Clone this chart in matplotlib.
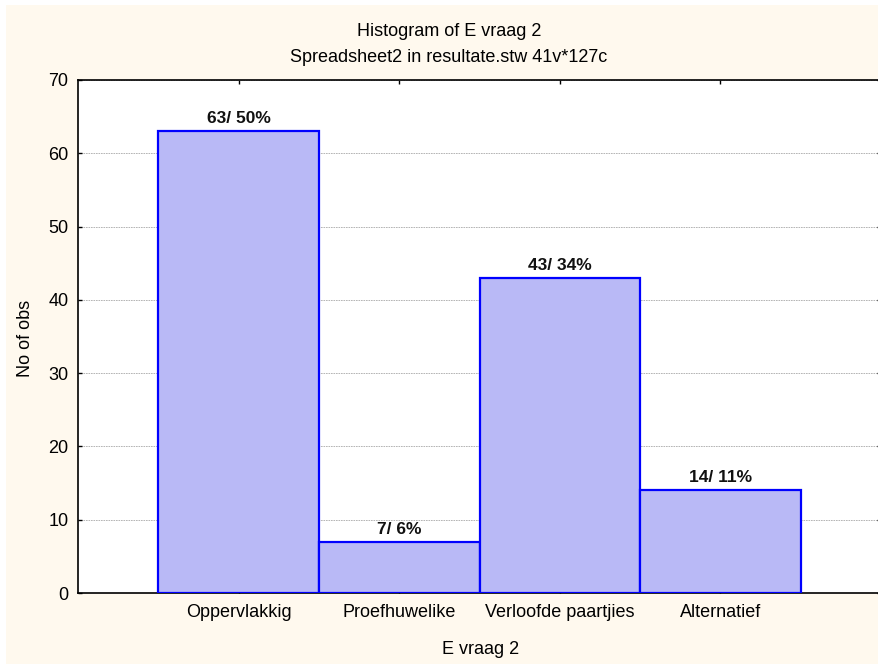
import matplotlib
matplotlib.use('Agg')
import matplotlib.pyplot as plt
from matplotlib.patches import Rectangle

categories = ['Oppervlakkig', 'Proefhuwelike', 'Verloofde paartjies', 'Alternatief']
counts = [63, 7, 43, 14]
percents = [50, 6, 34, 11]
yticks = [0, 10, 20, 30, 40, 50, 60, 70]

plt.rcParams['font.family'] = ['Liberation Sans', 'DejaVu Sans']

W, H = 879, 664
fig = plt.figure(figsize=(W / 100, H / 100), dpi=100, facecolor='white')

# cream background panel (behind the axes)
bg = Rectangle((6 / W, 0), 1, 1 - 5 / H, transform=fig.transFigure,
               facecolor='#FFF9EE', edgecolor='none', zorder=-10)
fig.add_artist(bg)

ax = fig.add_axes([78 / W, (H - 593) / H, (881 - 78) / W, (593 - 80) / H])
ax.set_facecolor('white')

pos = [1, 2, 3, 4]
ax.bar(pos, counts, width=1.0, color='#B9B9F6', edgecolor='#0000FF', linewidth=1.6, zorder=3)
for x, c, p in zip(pos, counts, percents):
    ax.text(x, c + 0.7, f'{c}/ {p}%', ha='center', va='bottom', fontsize=12.5,
            fontweight='bold', color='#111111', zorder=4)

ax.set_xlim(0, 5)
ax.set_ylim(0, 70)
ax.set_yticks(yticks)
ax.set_xticks(pos)
ax.set_xticklabels(categories)
ax.yaxis.grid(True, linestyle=(0, (2, 1)), color='#AAAAAA', linewidth=0.6, zorder=1)
ax.tick_params(direction='in', length=3, width=1, labelsize=13, top=True, right=True, pad=7)
ax.tick_params(axis='x', pad=8)
for s in ax.spines.values():
    s.set_linewidth(1.2)

fig.text(449 / W, 1 - 31 / H, 'Histogram of E vraag 2', ha='center', va='center', fontsize=13)
fig.text(449 / W, 1 - 57 / H, 'Spreadsheet2 in resultate.stw 41v*127c', ha='center', va='center', fontsize=13)
fig.text(481 / W, 1 - 650 / H, 'E vraag 2', ha='center', va='center', fontsize=13)
fig.text(26 / W, 1 - 338 / H, 'No of obs', ha='center', va='center', rotation=90, fontsize=13)

fig.savefig('out.png', dpi=100, facecolor=fig.get_facecolor())
